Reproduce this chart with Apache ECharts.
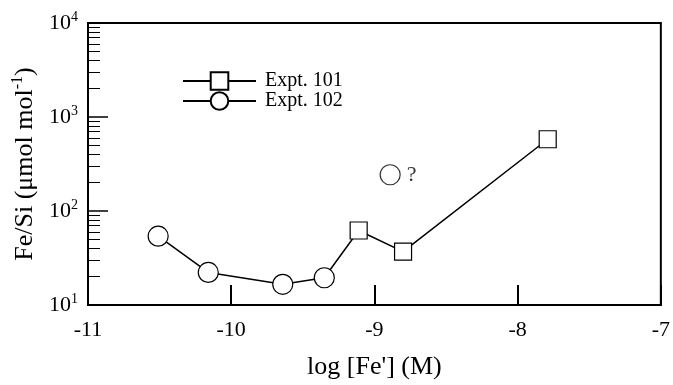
<!DOCTYPE html>
<html><head><meta charset="utf-8">
<script src="https://cdn.jsdelivr.net/npm/echarts@6/dist/echarts.min.js"></script>
<style>html,body{margin:0;padding:0;background:#fff}#c{width:673px;height:385px}</style>
</head><body><div id="c"></div>
<script>
// Data
const expt101X = [-9.11, -8.80, -7.79];
const expt101Y = [62, 37, 580];
const expt102X = [-10.51, -10.16, -9.64, -9.35];
const expt102Y = [54, 22.2, 16.6, 19.5];
const outlierX = [-8.89];
const outlierY = [243];
const xTicks = [-11, -10, -9, -8, -7];
const yMajor = [10, 100, 1000, 10000];
const yMinor = [];
for (const d of [10, 100, 1000]) for (let k = 2; k <= 9; k++) yMinor.push(k * d);

const FONT = 'Liberation Serif';
const chart = echarts.init(document.getElementById('c'));
const pairs = (xs, ys) => xs.map((x, i) => [x, ys[i]]);
const link = [expt102X[expt102X.length-1], expt102Y[expt102Y.length-1]];
const expt101Data = [{value: link, symbol: 'none'}].concat(pairs(expt101X, expt101Y));

chart.setOption({
  animation: false,
  backgroundColor: '#fff',
  grid: {left: 88, top: 23, right: 9, bottom: 74, show: true, borderColor: '#000', borderWidth: 2, backgroundColor: 'transparent'},
  legend: {
    orient: 'vertical', left: 177, top: 66, itemWidth: 73, itemHeight: 22, itemGap: 0,
    textStyle: {fontFamily: FONT, fontSize: 20, color: '#000', padding: [0, 0, 0, 4]},
    data: ['Expt. 101', 'Expt. 102']
  },
  xAxis: {
    type: 'value', min: xTicks[0], max: xTicks[xTicks.length-1], interval: 1,
    axisLine: {lineStyle: {color: '#000', width: 2}},
    axisTick: {inside: true, length: 20, lineStyle: {color: '#000', width: 2}},
    splitLine: {show: false},
    axisLabel: {fontFamily: FONT, fontSize: 22, color: '#000', margin: 14},
    name: "log [Fe'] (M)", nameLocation: 'middle', nameGap: 49,
    nameTextStyle: {fontFamily: FONT, fontSize: 26, color: '#000'}
  },
  yAxis: [{
    type: 'log', logBase: 10, min: yMajor[0], max: yMajor[yMajor.length-1],
    axisLine: {lineStyle: {color: '#000', width: 2}},
    axisTick: {inside: true, length: 20, lineStyle: {color: '#000', width: 1.5}},
    splitLine: {show: false},
    axisLabel: {
      margin: 10, color: '#000',
      formatter: v => '{b|10}{s|' + Math.round(Math.log10(v)) + '}',
      rich: {b: {fontFamily: FONT, fontSize: 22, color: '#000'}, s: {fontFamily: FONT, fontSize: 14, color: '#000', verticalAlign: 'bottom', padding: [0,0,11,0]}}
    },
    name: '{t|Fe/Si (μmol mol}{s|-1}{t|)}', nameLocation: 'middle', nameGap: 47, nameRotate: 90,
    nameTextStyle: {rich: {t: {fontFamily: FONT, fontSize: 26, color: '#000'}, s: {fontFamily: FONT, fontSize: 16, color: '#000', verticalAlign: 'bottom', padding: [0,0,14,0]}}}
  }, {
    type: 'log', logBase: 10, min: yMajor[0], max: yMajor[yMajor.length-1], position: 'left',
    axisLine: {show: false},
    axisTick: {inside: true, length: 12, customValues: yMinor, lineStyle: {color: '#000', width: 1}},
    axisLabel: {show: false}, splitLine: {show: false}
  }],
  series: [{
    name: 'Expt. 101', type: 'line', data: expt101Data, z: 2,
    symbol: 'rect', symbolSize: 17,
    lineStyle: {color: '#000', width: 1.5},
    itemStyle: {color: '#fff', borderColor: '#000', borderWidth: 1.2}
  }, {
    name: 'Expt. 102', type: 'line', data: pairs(expt102X, expt102Y), z: 3,
    symbol: 'circle', symbolSize: 20,
    lineStyle: {color: '#000', width: 1.5},
    itemStyle: {color: '#fff', borderColor: '#000', borderWidth: 1.2}
  }, {
    name: 'outlier', type: 'scatter', data: pairs(outlierX, outlierY), z: 3,
    symbol: 'circle', symbolSize: 20,
    itemStyle: {color: '#fff', borderColor: '#000', borderWidth: 1.2},
    label: {show: true, position: 'right', distance: 6, formatter: '?', fontFamily: FONT, fontSize: 22, color: '#000'}
  }]
});
</script></body></html>
